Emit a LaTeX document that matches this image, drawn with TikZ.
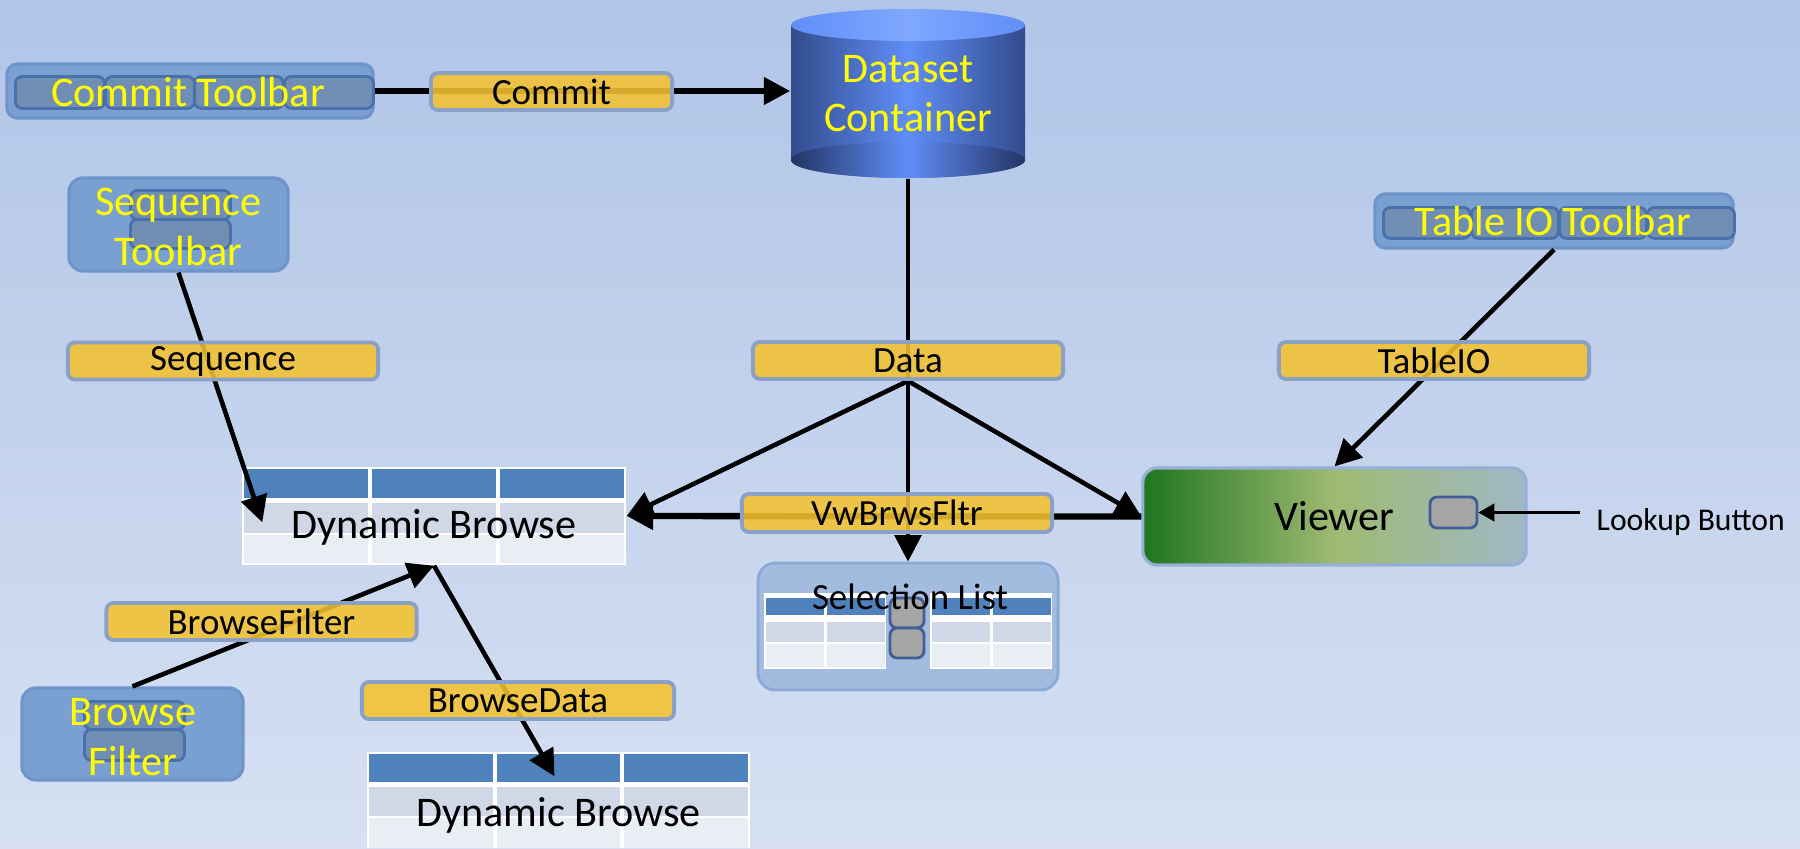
\documentclass[tikz,border=0pt]{standalone}
\usepackage{fontspec}
\setmainfont{Carlito}
\usepackage{tikz}
\usetikzlibrary{calc,positioning,fit,arrows.meta}

\definecolor{bgtop}{RGB}{177,197,232}
\definecolor{bgbottom}{RGB}{214,224,242}
\definecolor{tbfill}{RGB}{122,160,210}
\definecolor{tbedge}{RGB}{110,148,202}
\definecolor{btnfill}{RGB}{112,142,180}
\definecolor{btnedge}{RGB}{72,112,170}
\definecolor{tbyellow}{RGB}{255,255,0}
\definecolor{lblfill}{RGB}{243,194,48}
\definecolor{lbledge}{RGB}{138,160,196}
\definecolor{hdrblue}{RGB}{79,129,189}
\definecolor{rowdark}{RGB}{208,216,232}
\definecolor{rowlight}{RGB}{233,237,244}
\definecolor{cyldark}{RGB}{50,76,140}
\definecolor{cylbot}{RGB}{35,52,100}
\definecolor{cylmid}{RGB}{96,142,248}
\definecolor{cyltop}{RGB}{128,168,255}
\definecolor{viewgreen}{RGB}{30,118,30}
\definecolor{viewmid}{RGB}{158,186,114}
\definecolor{viewright}{RGB}{160,184,198}
\definecolor{viewedge}{RGB}{150,175,212}
\definecolor{listfill}{RGB}{163,187,223}
\definecolor{listedge}{RGB}{140,168,212}
\definecolor{greyfill}{RGB}{166,166,166}
\definecolor{greyedge}{RGB}{63,95,149}

\pgfdeclarelayer{front}
\pgfsetlayers{main,front}

\begin{document}
\begin{tikzpicture}[x=0.01cm,y=-0.01cm,
		>={Triangle[length=7.5pt,width=7.5pt]},
		conn/.style={->,line width=1.3pt},
		thickconn/.style={->,line width=1.8pt},
		toolbar/.style={draw=tbedge,line width=0.9pt,fill=tbfill,rounded corners=3pt,inner sep=0pt},
		tbbutton/.style={draw=btnedge,line width=0.8pt,fill=btnfill,rounded corners=2pt,inner sep=0pt,anchor=north west},
		tbtext/.style={text=tbyellow,font=\fontsize{12}{14.2}\selectfont,align=center,inner sep=0pt},
		flowlabel/.style={draw=lbledge,line width=1.1pt,fill=lblfill,fill opacity=0.88,text opacity=1,rounded corners=2pt,minimum width=3.1cm,minimum height=0.37cm,inner sep=0pt,font=\fontsize{10.5}{12}\selectfont},
		dbtext/.style={font=\fontsize{12}{14}\selectfont,inner sep=0pt},
		greybtn/.style={draw=greyedge,line width=0.8pt,fill=greyfill,rounded corners=2pt,inner sep=0pt}]
	\useasboundingbox (0,0) rectangle (1800,848);
	\shade[top color=bgtop,bottom color=bgbottom] (0,0) rectangle (1800,848);

	% dataset container
	\shade[left color=cyldark,right color=cyldark,middle color=cylmid] (791,25) -- (791,160) arc (180:0:117 and 18) -- (1025,25) -- cycle;
	\shade[left color=cylbot,right color=cylbot,middle color=cylmid] (908,160) ellipse (117 and 18);
	\shade[left color=cylmid,right color=cylmid,middle color=cyltop] (908,25) ellipse (117 and 16);
	\node(dataset) [minimum width=2.34cm,minimum height=1.69cm,inner sep=0pt,text=tbyellow,font=\fontsize{12}{13.8}\selectfont,align=center] at (908,93.5) {Dataset\\Container};

	% toolbars
	\node(committb) [toolbar,minimum width=3.66cm,minimum height=0.54cm] at (190,91) {};
	\foreach \bx [count=\i] in {14,104,193,283}
		\node(commitbtn\i) [tbbutton,minimum width=0.89cm,minimum height=0.32cm] at (\bx,75) {};
	\node(committxt) [tbtext] at (188,92) {Commit Toolbar};

	\node(tiotb) [toolbar,minimum width=3.58cm,minimum height=0.54cm] at (1554,221) {};
	\foreach \bx [count=\i] in {1382,1470,1558,1646}
		\node(tiobtn\i) [tbbutton,minimum width=0.87cm,minimum height=0.31cm] at (\bx,206) {};
	\node(tiotxt) [tbtext] at (1553,221) {Table IO Toolbar};

	\node(seqtb) [toolbar,rounded corners=4pt,minimum width=2.19cm,minimum height=0.93cm] at (178.5,224.5) {};
	\node(seqbtn1) [tbbutton,minimum width=1.0cm,minimum height=0.29cm] at (129,189) {};
	\node(seqbtn2) [tbbutton,minimum width=1.0cm,minimum height=0.29cm] at (129,218) {};
	\node(seqtxt) [tbtext] at (178.5,227) {Sequence\\Toolbar};

	\node(bftb) [toolbar,rounded corners=4pt,minimum width=2.21cm,minimum height=0.92cm] at (132.5,734) {};
	\node(bfbtn1) [tbbutton,minimum width=1.0cm,minimum height=0.28cm] at (83,700) {};
	\node(bfbtn2) [tbbutton,minimum width=1.0cm,minimum height=0.31cm] at (83,728) {};
	\node(bftxt) [tbtext] at (133,737) {Browse\\Filter};

	% browse tables
	\begin{scope}[shift={(242,467)}]
		\fill[white] (0,0) rectangle (384,98);
		\foreach \c in {0,1,2} {
			\fill[hdrblue] (128*\c+2,2) rectangle (128*\c+126,31);
			\fill[rowdark] (128*\c+2,36) rectangle (128*\c+126,66);
			\fill[rowlight] (128*\c+2,68) rectangle (128*\c+126,96);
		}
		\node(browse) [fit={(0,0) (384,98)},inner sep=0pt] {};
		\node(browsetxt) [dbtext] at (192,60) {Dynamic Browse};
	\end{scope}
	\begin{scope}[shift={(367,752)}]
		\fill[white] (0,0) rectangle (383,96);
		\foreach \c in {0,1,2} {
			\fill[hdrblue] (127.7*\c+2,2) rectangle (127.7*\c+125.7,30);
			\fill[rowdark] (127.7*\c+2,35) rectangle (127.7*\c+125.7,64);
			\fill[rowlight] (127.7*\c+2,66) rectangle (127.7*\c+125.7,96);
		}
		\node(browse2) [fit={(0,0) (383,98)},inner sep=0pt] {};
		\node(browse2txt) [dbtext] at (191.5,63) {Dynamic Browse};
	\end{scope}

	% selection list
	\node(sellist) [draw=listedge,line width=0.8pt,fill=listfill,rounded corners=5pt,minimum width=3.0cm,minimum height=1.27cm,inner sep=0pt] at (908,626.5) {};
	\begin{scope}[shift={(764,593)}]
		\foreach \xo in {0,166} {
			\fill[white] (\xo,0) rectangle (\xo+122,76);
			\foreach \c in {0,1} {
				\fill[hdrblue] (\xo+61*\c+1.5,5) rectangle (\xo+61*\c+59.5,22);
				\fill[rowdark] (\xo+61*\c+1.5,29) rectangle (\xo+61*\c+59.5,49);
				\fill[rowlight] (\xo+61*\c+1.5,51) rectangle (\xo+61*\c+59.5,74);
			}
		}
		\node(scrollup) [greybtn,minimum width=0.34cm,minimum height=0.30cm] at (143,20) {};
		\node(scrolldown) [greybtn,minimum width=0.34cm,minimum height=0.30cm] at (143,50) {};
		\node(seltxt) [font=\fontsize{10.5}{12}\selectfont,inner sep=0pt] at (146,4) {Selection List};
	\end{scope}

	% viewer
	\node(viewer) [draw=viewedge,line width=0.9pt,rounded corners=4pt,left color=viewgreen,right color=viewright,middle color=viewmid,minimum width=3.83cm,minimum height=0.97cm,font=\fontsize{12}{14}\selectfont] at (1334.5,516.5) {Viewer};
	\node(lookupbtn) [greybtn,minimum width=0.47cm,minimum height=0.31cm] at (1453.5,512.5) {};
	\node(lookuptxt) [anchor=west,inner ysep=0pt,inner xsep=0.16cm,font=\fontsize{9}{11}\selectfont] at (1580,522) {Lookup Button};

	% flow labels
	\begin{pgfonlayer}{front}
		\node(commitlbl) [flowlabel,minimum width=2.41cm] at (551.5,91.5) {Commit};
		\node(seqlbl) [flowlabel] at (223,361) {Sequence};
		\node(datalbl) [flowlabel] at (908,360.5) {Data};
		\node(tiolbl) [flowlabel] at (1434,360.5) {TableIO};
		\node(vwlbl) [flowlabel,minimum height=0.38cm] at (897,513) {VwBrwsFltr};
		\node(bflbl) [flowlabel] at (261.5,621.5) {BrowseFilter};
		\node(bdlbl) [flowlabel,minimum width=3.12cm] at (518,700.5) {BrowseData};
	\end{pgfonlayer}

	% connectors
	\coordinate(seqend) at ($(browse.north west)+(21,56)$);
	\coordinate(dataend) at ($(browse2.north)+(-4,25)$);
	\path[thickconn]
		(committb.east) edge (dataset.west |- committb.east)
		(viewer.west) edge (browse.east);
	\path[conn]
		(dataset.south) edge (sellist.north)
		(datalbl.south) edge (browse.east)
		(datalbl.south) edge (viewer.west)
		(seqtb.south) edge (seqend)
		(bftb.north) edge (browse.south)
		(browse.south) edge (dataend)
		(tiotb.south) edge (viewer.north);
	\path[->,line width=0.6pt,>={Triangle[length=4.5pt,width=5pt]}]
		(lookuptxt.west |- lookupbtn.east) edge (lookupbtn.east);
\end{tikzpicture}
\end{document}
